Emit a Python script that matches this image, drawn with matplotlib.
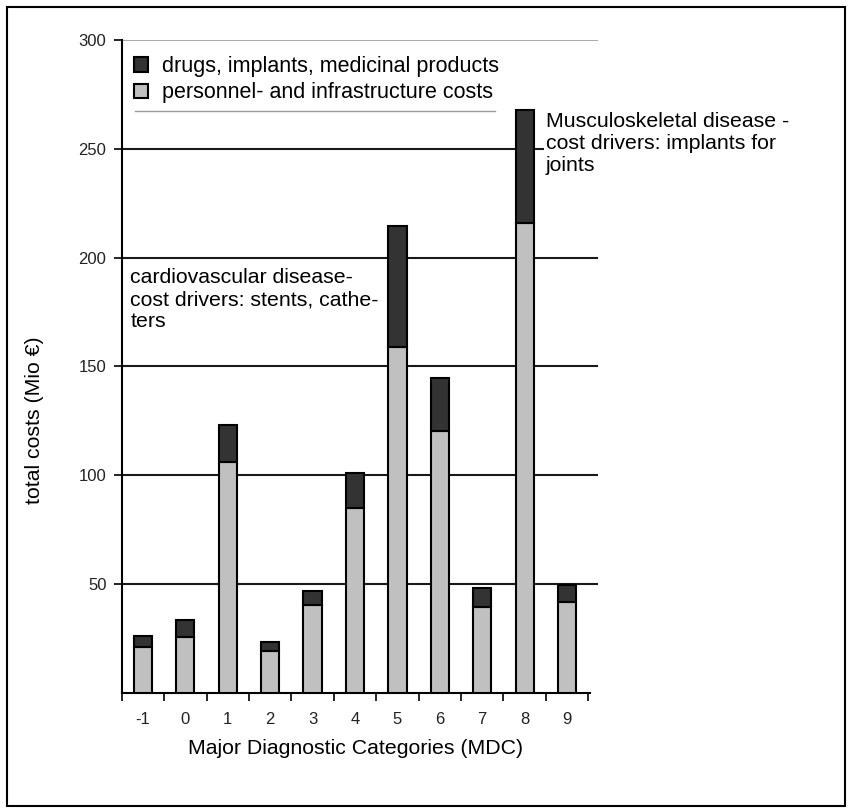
import matplotlib.pyplot as plt
from matplotlib.lines import Line2D
from matplotlib.patches import Rectangle

plt.rcParams['font.family'] = ['Liberation Sans', 'DejaVu Sans']

# Kosten je MDC (Mio €)
categories = ['-1', '0', '1', '2', '3', '4', '5', '6', '7', '8', '9']
personnel = [21, 25.5, 106, 19, 40.5, 85, 159, 120.5, 39.5, 216, 41.5]
drugs = [5, 8, 17, 4.5, 6.5, 16, 55.5, 24, 8.5, 52, 8]
y_ticks = [50, 100, 150, 200, 250, 300]

dark = '#333333'
light = '#c0c0c0'

fig = plt.figure(figsize=(8.5, 8.11), dpi=100)
ax = fig.add_axes([121.7 / 850, 1 - 692.8 / 811, 476.3 / 850, (692.8 - 40) / 811])

x = list(range(len(categories)))
ax.bar(x, personnel, width=0.43, color=light, edgecolor='black', linewidth=1.5,
       label='personnel- and infrastructure costs', zorder=3)
ax.bar(x, drugs, bottom=personnel, width=0.43, color=dark, edgecolor='black',
       linewidth=1.5, label='drugs, implants, medicinal products', zorder=3)

ax.set_xlim(-0.5, 10.73)
ax.set_ylim(0, 300)

# Gitterlinien, oberste grau
for v in y_ticks:
    ax.axhline(v, color='#999999' if v == 300 else '#1a1a1a',
               lw=1.2 if v == 300 else 1.5, zorder=1)

ax.set_yticks(y_ticks)
ax.set_yticklabels([str(v) for v in y_ticks], fontsize=12, color='#222222')
ax.tick_params(axis='y', length=6, width=1.2, pad=5)

ax.set_xticks(x)
ax.set_xticklabels(categories, fontsize=12, color='#222222')
ax.set_xticks([i - 0.5 for i in range(len(categories) + 1)], minor=True)
ax.tick_params(axis='x', which='major', length=0, pad=14)
ax.tick_params(axis='x', which='minor', length=6, width=1.2)

for s in ['top', 'right']:
    ax.spines[s].set_visible(False)
ax.spines['left'].set_linewidth(1.5)
ax.spines['bottom'].set_linewidth(1.5)
ax.spines['bottom'].set_bounds(-0.5, 10.55)

# Legende
handles, labels = ax.get_legend_handles_labels()
ax.legend(handles[::-1], labels[::-1], loc='upper left', frameon=False,
          bbox_to_anchor=(134 / 850, 1 - 56 / 811), bbox_transform=fig.transFigure,
          borderpad=0, borderaxespad=0, fontsize=15.5, handlelength=0.65,
          handleheight=0.65, handletextpad=0.65, labelspacing=0.25)
fig.add_artist(Line2D([135 / 850, 495 / 850], [1 - 111 / 811] * 2,
                      color='#999999', lw=1))

# Anmerkungen
ax.text(-0.3, 195, 'cardiovascular disease-\ncost drivers: stents, cathe-\nters',
        fontsize=15.3, va='top', ha='left', zorder=4,
        bbox=dict(facecolor='white', edgecolor='none', pad=1))
ax.text(9.5, 267, 'Musculoskeletal disease -\ncost drivers: implants for\njoints',
        fontsize=15.3, va='top', ha='left', zorder=4,
        bbox=dict(facecolor='white', edgecolor='none', pad=1))

fig.text(35 / 850, 1 - 420 / 811, 'total costs (Mio €)', rotation=90,
         fontsize=15.3, ha='center', va='center')
fig.text(356 / 850, 1 - 748 / 811, 'Major Diagnostic Categories (MDC)',
         fontsize=15.3, ha='center', va='center')

# Rahmen
fig.add_artist(Rectangle((7 / 850, 5 / 811), 838 / 850, 799 / 811,
                         transform=fig.transFigure, fill=False,
                         edgecolor='black', lw=1.5))

fig.savefig('out.png', dpi=100)
